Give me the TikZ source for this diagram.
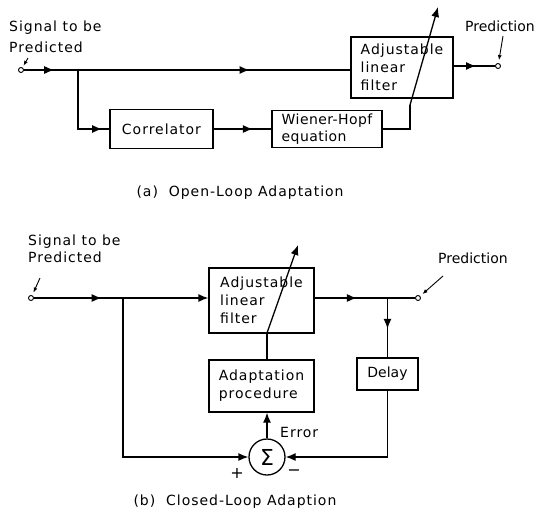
\documentclass[tikz,border=0pt]{standalone}
\usepackage{fontspec}
\setmainfont{DejaVu Sans}[LetterSpace=7]
\usepackage{tikz}
\usetikzlibrary{positioning,arrows.meta,decorations.markings}

\tikzset{
  blk/.style={draw=black,line width=1.3pt,align=left,inner sep=3pt},
  term/.style={circle,draw=black,line width=0.9pt,fill=white,inner sep=0pt,minimum size=5pt},
  wire/.style={line width=1.3pt},
  head/.style={-{Latex[length=10pt,width=8pt]}},
  midarrow/.style={postaction={decorate},decoration={markings,
      mark=at position #1 with {\arrow{Latex[length=10pt,width=8pt]}}}},
  tag/.style={inner sep=0pt,align=left},
  tight/.style={font=\fontsize{14}{17}\selectfont\addfontfeature{LetterSpace=0}},
  pointer/.style={line width=0.9pt,-{Latex[length=5pt,width=4pt]}}
}

\begin{document}
\begin{tikzpicture}[x=1pt,y=-1pt,font=\fontsize{14}{18}\selectfont]
      \useasboundingbox (0,0) rectangle (541,515);

      % (a) open loop
      \node[tag,anchor=north west,font=\fontsize{14}{21}\selectfont] (sigA) at (9,21) {Signal to be\\Predicted};
      \node[term] (inA) at (21,70) {};
      \node[blk,minimum width=102,minimum height=61] (filtA) at (402,67.5) {Adjustable\\linear\\filter};
      \node[blk,minimum width=103,minimum height=39] (corr) at (161.5,129) {Correlator};
      \node[blk,minimum width=110,minimum height=35,font=\fontsize{14}{17}\selectfont\addfontfeature{LetterSpace=3}] (wh) at (327,129) {Wiener-Hopf\\equation};
      \node[term] (outA) at (498,66) {};
      \node[tag,tight,anchor=base west] (predA) at (465,31) {Prediction};
      \coordinate (brA) at (78,70);
      \coordinate (upA) at (410,105);
      \coordinate (tipA) at (438,7);
      \coordinate (ptAin) at (28,58);
      \coordinate (ptAout) at (503,36);

      \draw[wire,midarrow=0.56] (inA) -- (brA);
      \draw[wire,midarrow=0.63] (brA) -- (filtA.west |- brA);
      \draw[wire,midarrow=0.92] (brA) |- (corr.west);
      \draw[wire,midarrow=0.68] (corr) -- (wh);
      \draw[wire] (wh.east) -| (upA);
      \draw[wire,head] (upA) -- (tipA);
      \draw[wire,midarrow=0.54] (filtA.east |- outA) -- (outA);
      \draw[pointer,shorten >=2pt] (ptAin) -- (inA);
      \draw[pointer,shorten >=3pt] (ptAout) -- (outA);

      \node[anchor=west] (capA) at (133,193) {(a)\ \ Open-Loop\ Adaptation};

      % (b) closed loop
      \node[tag,anchor=north west,font=\fontsize{14}{17}\selectfont] (sigB) at (28,235) {Signal to be\\Predicted};
      \node[term] (inB) at (31,298) {};
      \node[blk,minimum width=105,minimum height=65] (filtB) at (261.5,300.5) {Adjustable\\linear\\filter};
      \node[blk,minimum width=105,minimum height=52] (adapt) at (261.5,386) {Adaptation\\procedure};
      \node[blk,tight,minimum width=61,minimum height=32] (delay) at (387.5,374) {Delay};
      \node[circle,draw=black,line width=1.3pt,minimum size=36,inner sep=0pt] (sum) at (267,457) {\fontsize{22}{22}\selectfont Σ};
      \node[term] (outB) at (418,298) {};
      \node[tag,tight,anchor=base west] (predB) at (438,263) {Prediction};
      \node[tag,anchor=base west] (err) at (280,437) {Error};
      \node (plus) at (237,473) {\fontsize{16}{16}\selectfont +};
      \node (minus) at (294,473) {\fontsize{16}{16}\selectfont −};
      \coordinate (brB) at (123,298);
      \coordinate (brB2) at (387.5,298);
      \coordinate (upB) at (267,333);
      \coordinate (tipB) at (298,245);
      \coordinate (ptBin) at (40,278);
      \coordinate (ptBout) at (443,276);

      \draw[wire,midarrow=0.76] (inB) -- (brB);
      \draw[wire,head] (brB) -- (filtB.west |- brB);
      \draw[wire,midarrow=0.58] (filtB.east |- brB2) -- (brB2);
      \draw[wire] (brB2) -- (outB);
      \draw[wire,midarrow=0.52] (brB2) -- (delay.north);
      \draw[wire,head] (brB) |- (sum.west);
      \draw[wire,head] (delay.south) |- (sum.east);
      \draw[wire,head] (sum.north) -- (sum.north |- adapt.south);
      \draw[wire] (sum.north |- adapt.north) -- (upB);
      \draw[wire,head] (upB) -- (tipB);
      \draw[pointer,shorten >=3pt] (ptBin) -- (inB);
      \draw[pointer,shorten >=3pt] (ptBout) -- (outB);

      \node[anchor=west] (capB) at (130,502) {(b)\ \ Closed-Loop\ Adaption};
\end{tikzpicture}
\end{document}
